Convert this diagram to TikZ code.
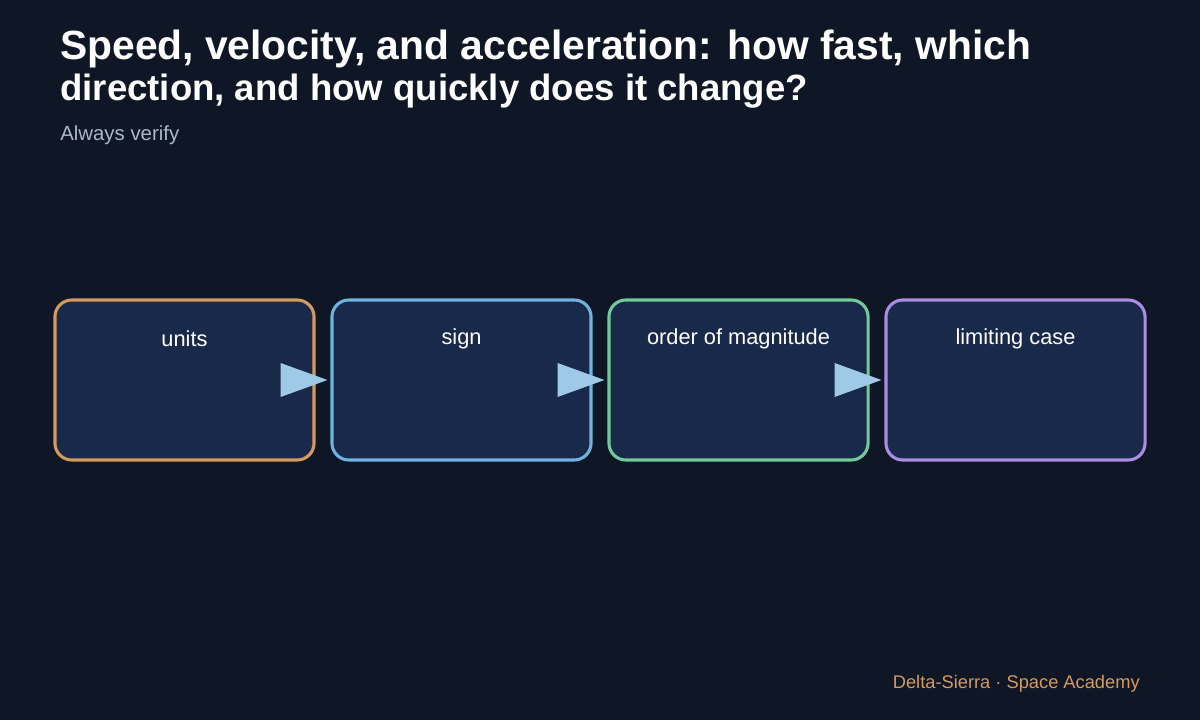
\documentclass[tikz,border=0pt]{standalone}
\usepackage{fontspec}
\setmainfont{Liberation Sans}
\usetikzlibrary{positioning,calc}
\definecolor{bgc}{HTML}{0F1726}
\definecolor{boxfill}{HTML}{18294A}
\definecolor{cunits}{HTML}{D49A5E}
\definecolor{csign}{HTML}{6FB3DE}
\definecolor{cmag}{HTML}{74C99A}
\definecolor{climit}{HTML}{A98EE0}
\definecolor{arrowc}{HTML}{9ECAE8}
\definecolor{subc}{HTML}{A9B8CC}
\definecolor{footc}{HTML}{D49A5E}

\begin{document}
\begin{tikzpicture}[x=0.025cm,y=-0.025cm,
  stepbox/.style={draw,line width=2.2pt,rounded corners=12pt,fill=boxfill,
    minimum width=6.475cm, minimum height=4cm,inner sep=0pt},
  lbl/.style={text=white,font=\fontsize{15.5pt}{18pt}\selectfont},
  every node/.append style={inner sep=0pt}]
	\fill[bgc] (0,0) rectangle (1200,720);
	\useasboundingbox (0,0) rectangle (1200,720);
	% title
	\node[anchor=north west,align=left,text=white,font=\bfseries\fontsize{29pt}{30pt}\selectfont] (title) at (60,30)
	  {Speed, velocity, and acceleration: how fast, which\\[-1pt]{\fontsize{26pt}{28pt}\selectfont direction, and how quickly does it change?}};
	\node[anchor=west,text=subc,font=\fontsize{14.5pt}{16pt}\selectfont] (sub) at (60,135) {Always verify};
	% boxes
	\node[stepbox,draw=cunits] (units) at (184.5,380) {};
	\node[stepbox,draw=csign] (sign) at (461.5,380) {};
	\node[stepbox,draw=cmag] (mag) at (738.5,380) {};
	\node[stepbox,draw=climit] (limit) at (1015.5,380) {};
	\foreach \b/\t in {units/units,sign/sign,mag/order of magnitude,limit/limiting case}
	  \node[lbl] at ($(\b.north)+(0,40)$) {\t};
	% arrows
	\foreach \a/\b in {units/sign,sign/mag,mag/limit}
	  \fill[arrowc] ($(\a.east)+(-35,-17)$) -- ($(\b.west)+(-3,0)$) -- ($(\a.east)+(-35,17)$) -- cycle;
	\node[anchor=east,text=footc,font=\fontsize{13pt}{15pt}\selectfont] (foot) at (1140,684) {Delta-Sierra · Space Academy};
\end{tikzpicture}
\end{document}
